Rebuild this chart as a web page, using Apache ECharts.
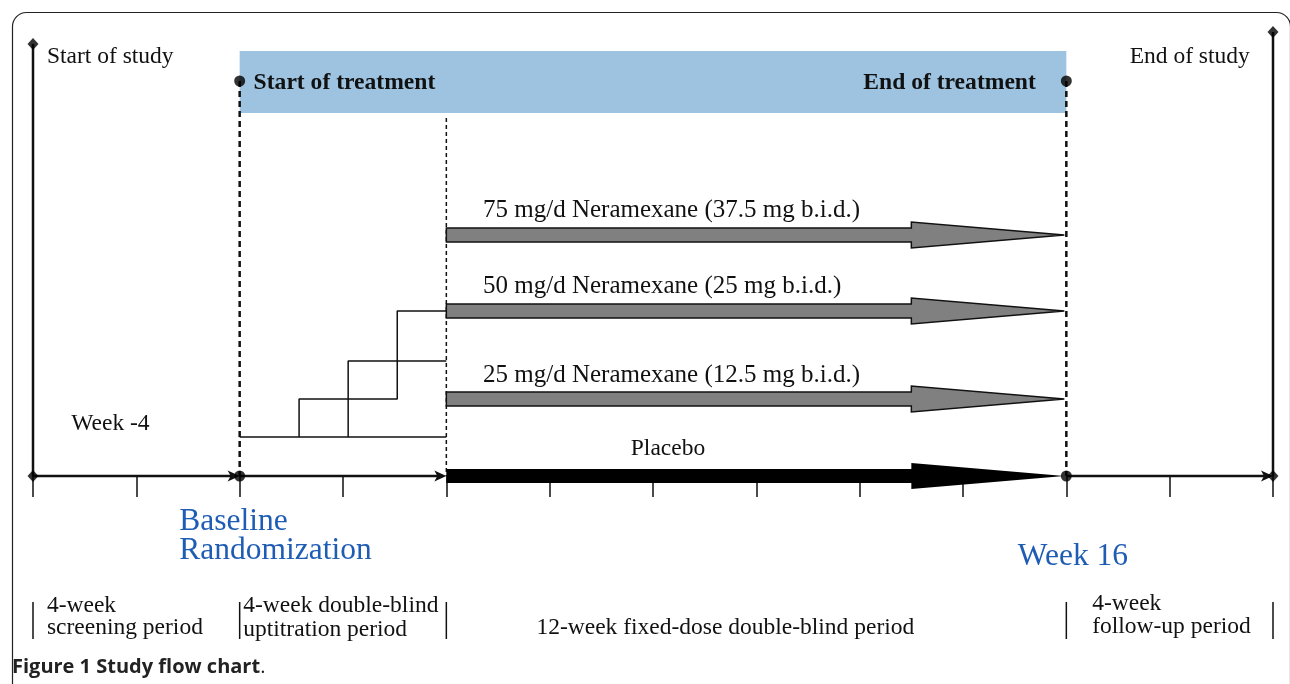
<!DOCTYPE html>
<html>
<head>
<meta charset="utf-8">
<script src="https://cdn.jsdelivr.net/npm/echarts@6/dist/echarts.min.js"></script>
<style>
  html, body { margin: 0; padding: 0; background: #fff; }
  #chart { width: 1290px; height: 684px; }
</style>
</head>
<body>
<div id="chart"></div>
<script>
// weeks relative to baseline (week 0)
const periodBounds = [-4, 0, 4, 16, 20];
const axisSegments = [[-4, 0], [0, 4], [16, 20]];
const milestones = [0, 16];
const treatmentSpan = [0, 16];

// treatment arms
const armLabels = ["75 mg/d Neramexane (37.5 mg b.i.d.)", "50 mg/d Neramexane (25 mg b.i.d.)", "25 mg/d Neramexane (12.5 mg b.i.d.)", "Placebo"];
const armStart = [4, 4, 4, 4];
const armEnd = [16, 16, 16, 16];
const armLane = [241, 165, 77, 0];

// uptitration staircase (week, lane)
const titrationBase = [[0, 39], [4, 39]];
const titrationStepA = [[1.15, 39], [1.15, 77], [3.05, 77], [3.05, 165], [4, 165]];
const titrationStepB = [[2.1, 39], [2.1, 115], [4, 115]];

// annotations: text, week, lane, kind
const annotations = [
  ["Start of study", -3.73, 419, "reg"],
  ["End of study", 19.55, 419, "regR"],
  ["Start of treatment", 0.27, 393, "bold"],
  ["End of treatment", 15.41, 393, "boldR"],
  [armLabels[0], 4.71, 266, "arm"],
  [armLabels[1], 4.71, 190, "arm"],
  [armLabels[2], 4.71, 101, "arm"],
  [armLabels[3], 8.29, 27, "regC"],
  ["Week -4", -3.26, 52, "reg"],
  ["Baseline", -1.17, -46, "blue"],
  ["Randomization", -1.17, -75, "blue"],
  ["Week 16", 15.06, -81, "blue"],
  ["4-week", -3.73, -130, "reg"],
  ["screening period", -3.73, -152, "reg"],
  ["4-week double-blind", 0.07, -130, "reg"],
  ["uptitration period", 0.07, -154, "reg"],
  ["12-week fixed-dose double-blind period", 9.4, -152, "regC"],
  ["4-week", 16.5, -128, "reg"],
  ["follow-up period", 16.5, -151, "reg"]
];

const serif = '"Liberation Serif", "DejaVu Serif", serif';
const textKinds = {
  reg: { font: '23.5px ' + serif, fill: '#111', align: 'left' },
  regR: { font: '23.5px ' + serif, fill: '#111', align: 'right' },
  regC: { font: '23.5px ' + serif, fill: '#111', align: 'center' },
  arm: { font: '25px ' + serif, fill: '#111', align: 'left' },
  bold: { font: 'bold 23.6px ' + serif, fill: '#111', align: 'left' },
  boldR: { font: 'bold 23.6px ' + serif, fill: '#111', align: 'right' },
  blue: { font: '31.5px ' + serif, fill: '#1f5db5', align: 'left' }
};

const chart = echarts.init(document.getElementById('chart'));

function lineSeries(points, style) {
  return {
    type: 'line', data: points, symbol: 'none', silent: true, z: 3,
    lineStyle: Object.assign({ color: '#111', width: 1.5 }, style)
  };
}

const option = {
  animation: false,
  grid: { left: 33, right: 17, top: 0, bottom: 0 },
  xAxis: {
    type: 'value', min: -4, max: 20, interval: 2,
    axisLine: { show: false, onZero: true },
    axisTick: { show: true, length: 21, lineStyle: { color: '#111', width: 1.5 } },
    axisLabel: { show: false },
    splitLine: { show: false }
  },
  yAxis: { type: 'value', min: -208, max: 476, show: false },
  graphic: [
    {
      type: 'rect', left: 10, top: 10, silent: true,
      shape: { width: 1278, height: 720, r: 14 },
      style: { fill: 'none', stroke: '#222', lineWidth: 1.2 }
    },
    {
      type: 'text', left: 12, top: 657,
      style: {
        text: '{b|Figure 1 Study flow chart}{n|.}',
        rich: {
          b: { font: 'bold 20px "Open Sans", sans-serif', fill: '#222' },
          n: { font: '20px "Open Sans", sans-serif', fill: '#222' }
        }
      }
    }
  ],
  series: [
    // treatment band
    {
      type: 'custom', z: 1, silent: true,
      data: [treatmentSpan],
      renderItem: function (params, api) {
        const a = api.coord([api.value(0), 425]);
        const b = api.coord([api.value(1), 363]);
        return { type: 'rect', shape: { x: a[0], y: a[1], width: b[0] - a[0], height: b[1] - a[1] }, style: { fill: '#9dc3e0' } };
      }
    },
    // study boundaries
    lineSeries([[-4, 0], [-4, 432]], { width: 2.5 }),
    lineSeries([[20, 0], [20, 444]], { width: 2.5 }),
    // treatment boundaries
    lineSeries([[0, 395], [0, 0]], { width: 2.5, type: [6, 4] }),
    lineSeries([[16, 395], [16, 0]], { width: 2.5, type: [6, 4] }),
    lineSeries([[4, 358], [4, 0]], { width: 1.5, type: [4, 3] }),
    // uptitration
    lineSeries(titrationBase, {}),
    lineSeries(titrationStepA, {}),
    lineSeries(titrationStepB, {}),
    // timeline segments
    {
      type: 'custom', z: 4, silent: true,
      data: axisSegments,
      renderItem: function (params, api) {
        const a = api.coord([api.value(0), 0]);
        const b = api.coord([api.value(1), 0]);
        return {
          type: 'group', children: [
            { type: 'line', shape: { x1: a[0], y1: a[1], x2: b[0] - 6, y2: b[1] }, style: { stroke: '#111', lineWidth: 2.5 } },
            { type: 'polygon', shape: { points: [[b[0], b[1]], [b[0] - 12, b[1] - 5.5], [b[0] - 9, b[1]], [b[0] - 12, b[1] + 5.5]] }, style: { fill: '#111' } }
          ]
        };
      }
    },
    // arms
    {
      type: 'custom', z: 5, silent: true,
      data: armStart.map(function (s, i) { return [s, armEnd[i], armLane[i]]; }),
      renderItem: function (params, api) {
        const lane = api.value(2);
        const s = api.coord([api.value(0), lane]);
        const e = api.coord([api.value(1), lane]);
        const h = api.coord([api.value(1) - 3, lane]);
        const y = s[1];
        const placebo = params.dataIndex === 3;
        return {
          type: 'polygon',
          shape: { points: [[s[0], y - 7], [h[0], y - 7], [h[0], y - 13], [e[0] - 2, y], [h[0], y + 13], [h[0], y + 7], [s[0], y + 7]] },
          style: { fill: placebo ? '#000' : '#808080', stroke: '#111', lineWidth: placebo ? 0 : 1.5 }
        };
      }
    },
    // period separators
    {
      type: 'custom', z: 3, silent: true,
      data: periodBounds.map(function (w) { return [w]; }),
      renderItem: function (params, api) {
        const a = api.coord([api.value(0), -126]);
        const b = api.coord([api.value(0), -163]);
        return { type: 'line', shape: { x1: a[0], y1: a[1], x2: b[0], y2: b[1] }, style: { stroke: '#111', lineWidth: 1.5 } };
      }
    },
    // milestone dots
    {
      type: 'scatter', z: 6, silent: true, symbol: 'circle', symbolSize: 11,
      itemStyle: { color: '#000' },
      data: milestones.map(function (w) { return [w, 0]; }).concat(milestones.map(function (w) { return [w, 395]; }))
    },
    {
      type: 'scatter', z: 6, silent: true, symbol: 'diamond', symbolSize: [11, 12],
      itemStyle: { color: '#000' },
      data: [[-4, 0], [20, 0], [-4, 432], [20, 444]]
    },
    // text
    {
      type: 'custom', z: 7, silent: true,
      data: annotations.map(function (a) { return [a[1], a[2]]; }),
      renderItem: function (params, api) {
        const a = annotations[params.dataIndex];
        const p = api.coord([api.value(0), api.value(1)]);
        const k = textKinds[a[3]];
        return {
          type: 'text', x: p[0], y: p[1],
          style: { text: a[0], font: k.font, fill: k.fill, align: k.align, verticalAlign: 'middle' }
        };
      }
    }
  ]
};

chart.setOption(option);
</script>
</body>
</html>
